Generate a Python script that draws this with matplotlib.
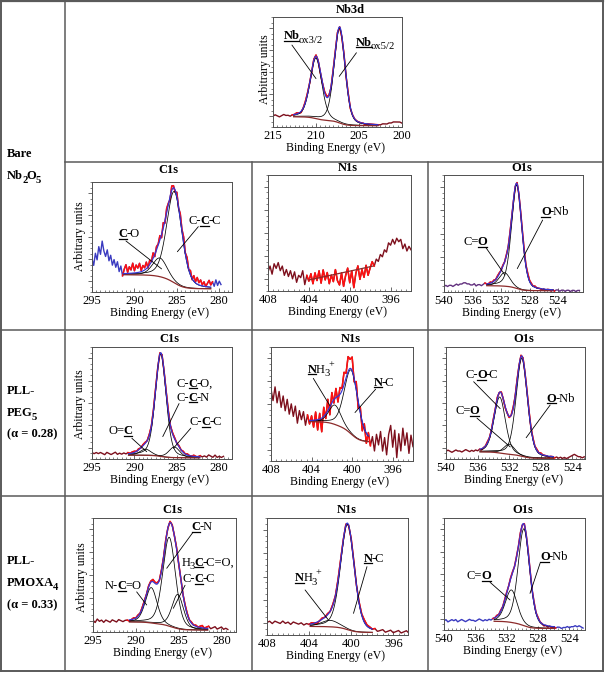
import math
import numpy as np
import matplotlib
matplotlib.use("Agg")
import matplotlib.pyplot as plt
from matplotlib.lines import Line2D
from matplotlib.transforms import IdentityTransform
from matplotlib.ticker import MultipleLocator

plt.rcParams["font.family"] = ["Liberation Serif", "DejaVu Serif"]

W, H, DPI = 605, 673, 100
RED = "#ff1010"
BLUE = "#3434d4"
BROWN = "#8c2a2a"
MAROON = "#7d0f1c"
PURPLE = "#62307e"
BLUEOUT = "#3a3ac0"
GRID = "#5a5a5a"
AX = "#505050"

# ---------------------------------------------------------------- data
# Peak-fit parameters (y in fraction of panel height),
# bg = [level on high-BE side, level on low-BE side], fit = [high-BE end, low-BE end]
# resid = measured minus fitted model, in hundredths, sampled from start with step.

nb3d_xticks = [215, 210, 205, 200]
nb3d_centers = [210.0, 207.25]
nb3d_heights = [0.55, 0.86]
nb3d_fwhm = [1.6, 1.5]
nb3d_bg = [0.095, 0.01]
nb3d_fit = [212.6, 202.8]
nb3d_start, nb3d_step = 215.0, 0.25
nb3d_resid = [0, 1, 0, -1, 0, 1, 0, 0, -1, 0,
              0, 1, 0, -1, 0, 1, 1, 0, -1, 1,
              1, 0, -1, 0, 1, 1, 0, -1, 1, 0,
              1, 0, -1, 1, 0, 1, -1, 0, 0, 0,
              0, 0, 0, -1, 0, 0, 0, 0, 0, 0,
              0, 1, 1, 1, 2, 2, 3, 3, 3, 3,
              2]

c1s_xticks = [295, 290, 285, 280]
n1s_xticks = [408, 404, 400, 396]
o1s_xticks = [540, 536, 532, 528, 524]

# Bare Nb2O5
c1s_bare_centers = [287.0, 285.3]
c1s_bare_heights = [0.17, 0.83]
c1s_bare_fwhm = [2.0, 2.1]
c1s_bare_bg = [0.16, 0.025]
c1s_bare_fit = [291.3, 281.0]
c1s_bare_start, c1s_bare_step = 295.0, 0.2
c1s_bare_resid = [14, 8, 19, 13, 25, 18, 30, 21, 16, 22,
                  12, 17, 8, 13, 6, 11, 2, 7, -2, 4,
                  8, 1, 6, 3, 9, 2, 7, 4, 8, 1,
                  5, 2, 6, -1, 4, 0, 5, -2, 3, 1,
                  4, -3, 5, -2, 4, 1, -3, 4, 2, -2,
                  4, -1, 5, 2, 6, 1, 5, 0, 4, -1,
                  5, 1, 6, 2, 5, 1, 4, 0, 3, 6,
                  2, 5, 1, 7, 2, 6, 3]

n1s_bare_centers = []
n1s_bare_heights = []
n1s_bare_fwhm = []
n1s_bare_bg = [0.095, 0.215]
n1s_bare_fit = [404.0, 397.7]
n1s_bare_start, n1s_bare_step = 408.0, 0.2
n1s_bare_resid = [7, 12, 5, 14, 10, 15, 8, 12, 4, 9,
                  3, 8, 1, 7, -2, 4, 2, 8, -4, 4,
                  -1, 5, -4, 5, -2, 6, -5, 6, -3, 3,
                  -7, 0, -6, 4, -6, -10, 0, -12, -3, 3,
                  -10, 0, -15, -3, 3, -9, -1, -8, 2, -7,
                  -1, 4, 0, 6, 4, 10, 8, 14, 12, 20,
                  18, 23, 19, 24, 21, 23, 15, 19, 13, 17,
                  14]

o1s_bare_centers = [531.5, 529.8]
o1s_bare_heights = [0.115, 0.885]
o1s_bare_fwhm = [1.8, 1.7]
o1s_bare_bg = [0.055, 0.01]
o1s_bare_fit = [534.0, 524.7]
o1s_bare_start, o1s_bare_step = 540.0, 0.25
o1s_bare_resid = [-1, 0, -1, 0, 0, -1, 0, 1, 0, 1,
                  1, 2, 2, 1, 1, 0, 0, 1, -1, 0,
                  0, -1, 0, 1, 0, 0, 1, 0, 1, 0,
                  1, 1, 0, 1, 0, 1, 0, 1, 0, -1,
                  0, 1, 0, 1, 2, 2, 1, 2, 1, 1,
                  0, 1, 0, 0, 0, -1, 0, -1, 0, 0,
                  -1, 0, -1, 0, 0, -1, 0, 0, -1, 0,
                  0, -1, 0, 0, -1, 0, 0]

# PLL-PEG5
c1s_peg_centers = [288.7, 286.9, 285.3]
c1s_peg_heights = [0.055, 0.915, 0.095]
c1s_peg_fwhm = [1.5, 1.5, 1.5]
c1s_peg_bg = [0.035, 0.01]
c1s_peg_fit = [290.7, 282.3]
c1s_peg_start, c1s_peg_step = 295.0, 0.25
c1s_peg_resid = [2, 1, 2, 1, 2, 1, 0, 2, 1, 0,
                 1, 2, 0, 1, 0, 1, 0, 1, 0, 1,
                 1, 0, 1, 0, 1, 1, 0, 1, 0, 1,
                 1, 0, 1, 1, 0, 1, 1, 0, 1, 1,
                 0, 1, 0, 1, 0, 1, 0, 0, 1, 0,
                 0, 1, 0, 1, 0, 2, 1, 0, 2, 0,
                 1, 0, 1]

n1s_peg_centers = [401.7, 400.1]
n1s_peg_heights = [0.17, 0.56]
n1s_peg_fwhm = [1.4, 1.6]
n1s_peg_bg = [0.35, 0.16]
n1s_peg_fit = [404.2, 398.4]
n1s_peg_start, n1s_peg_step = 408.0, 0.2
n1s_peg_resid = [28, 18, 30, 16, 26, 12, 22, 9, 19, 6,
                 15, 4, 13, -2, 9, 1, 8, -4, 5, -3,
                 4, -6, 7, -9, 5, -12, 8, -4, 10, -7,
                 9, -3, 8, -5, 6, 2, 11, 4, 13, 8,
                 12, -3, 7, -6, 5, -8, 4, -9, 3, -7,
                 2, -10, 5, -4, 8, -9, 3, -12, 6, 14,
                 -5, 10, -14, 7, -8, 12, -3, 8, -10, 6,
                 -4]

o1s_peg_centers = [533.2, 532.0, 530.4]
o1s_peg_heights = [0.50, 0.09, 0.874]
o1s_peg_fwhm = [1.7, 1.6, 1.7]
o1s_peg_bg = [0.065, 0.005]
o1s_peg_fit = [535.7, 526.4]
o1s_peg_start, o1s_peg_step = 540.0, 0.25
o1s_peg_resid = [0, 1, 0, -1, 0, 1, 0, 0, -1, 0,
                 1, 0, -1, 0, -1, 0, -1, 0, -1, 0,
                 0, 1, 0, 0, 1, 0, 1, 0, 1, 0,
                 -1, 0, -1, 0, 1, 0, 1, 0, 1, 1,
                 0, 1, 1, 0, 1, 0, 1, 0, 1, 0,
                 0, 0, -1, 0, 0, -1, 0, -1, 0, -1,
                 0, -1, 0, 1, 2, 3, 2, 1, 1, 0,
                 1]

# PLL-PMOXA4
c1s_pmoxa_centers = [288.2, 286.1, 285.1]
c1s_pmoxa_heights = [0.31, 0.78, 0.30]
c1s_pmoxa_fwhm = [1.6, 1.75, 1.6]
c1s_pmoxa_bg = [0.09, 0.015]
c1s_pmoxa_fit = [290.75, 281.6]
c1s_pmoxa_start, c1s_pmoxa_step = 295.0, 0.25
c1s_pmoxa_resid = [1, -1, 2, 0, 1, -1, 1, 0, -1, 1,
                   0, -1, 1, 0, -1, 0, 0, -1, 0, 1,
                   0, 1, 0, 1, 1, 0, 1, 1, 2, 1,
                   1, 0, 1, 0, 1, 0, 1, 1, 0, 1,
                   0, 1, 0, 1, 1, 0, 1, 0, 1, 0,
                   1, 2, 0, 1, 2, 0, 1, 2, 0, 1,
                   2, 0, 1, 0]

n1s_pmoxa_centers = [402.0, 400.35]
n1s_pmoxa_heights = [0.055, 0.90]
n1s_pmoxa_fwhm = [2.0, 1.55]
n1s_pmoxa_bg = [0.075, 0.02]
n1s_pmoxa_fit = [403.9, 398.0]
n1s_pmoxa_start, n1s_pmoxa_step = 408.0, 0.25
n1s_pmoxa_resid = [3, 4, 2, 4, 3, 2, 4, 2, 3, 1,
                   3, 2, 1, 2, 0, 1, 0, 1, 0, -1,
                   0, 1, 0, 1, 0, 1, 0, 1, 1, 0,
                   1, 0, 1, 1, 0, 1, 1, 2, 1, 1,
                   0, 1, -1, 0, 1, -1, 0, 1, -1, 0,
                   1, -1, 0, 1, -1, 0, 1]

o1s_pmoxa_centers = [531.4, 529.8]
o1s_pmoxa_heights = [0.29, 0.865]
o1s_pmoxa_fwhm = [1.8, 1.75]
o1s_pmoxa_bg = [0.08, 0.012]
o1s_pmoxa_fit = [533.6, 525.9]
o1s_pmoxa_start, o1s_pmoxa_step = 540.0, 0.25
o1s_pmoxa_resid = [0, 1, -1, 0, 1, 0, 1, -1, 0, 1,
                   0, -1, 0, 1, 0, 0, -1, 0, 1, 0,
                   -1, 0, -1, 0, -1, 0, 0, 1, 0, 1,
                   0, 1, 1, 0, 1, 1, 0, 1, 0, 1,
                   0, 1, 0, 1, 1, 0, 1, 0, 1, 0,
                   0, -1, 0, -1, 0, -1, 0, -1, 0, 0,
                   -1, 0, 0, 1, 0, 1, 1, 2, 1, 2,
                   1, 0]

row_labels = [
    [([("Bare", "B")], 157), ([("Nb", "B"), ("2", "B_"), ("O", "B"), ("5", "B_")], 179)],
    [([("PLL-", "B")], 394), ([("PEG", "B"), ("5", "B_")], 416), ([("(α = 0.28)", "B")], 437)],
    [([("PLL-", "B")], 564), ([("PMOXA", "B"), ("4", "B_")], 586), ([("(α = 0.33)", "B")], 608)],
]

# ---------------------------------------------------------------- model
ETA = 0.3
L2 = math.log(2.0)
AG = (1 - ETA) * math.sqrt(math.pi / (4 * L2))
AL = ETA * math.pi / 2
_erf = np.vectorize(math.erf)


def peak(x, c, h, w):
    d = (x - c) / w
    return h * ((1 - ETA) * np.exp(-4 * L2 * d * d) + ETA / (1 + 4 * d * d))


def peak_cdf(x, c, w):
    sg = w / (2 * math.sqrt(2 * L2))
    g = 0.5 * (1 + _erf((x - c) / (sg * math.sqrt(2))))
    lo = 0.5 + np.arctan(2 * (x - c) / w) / math.pi
    return (AG * g + AL * lo) / (AG + AL)


def background(x, p):
    hi, low = p["bg"]
    if p["centers"]:
        wts = [h * w for h, w in zip(p["heights"], p["fwhm"])]
        frac = sum(wt * peak_cdf(x, c, w) for wt, c, w in zip(wts, p["centers"], p["fwhm"])) / sum(wts)
    else:
        f0, f1 = p["fit"]
        frac = np.clip((x - f1) / (f0 - f1), 0, 1)
    return low + (hi - low) * frac


def model(x, p):
    y = background(x, p)
    for c, h, w in zip(p["centers"], p["heights"], p["fwhm"]):
        y = y + peak(x, c, h, w)
    return y


def P(prefix, **kw):
    g = globals()
    d = dict(centers=g[prefix + "_centers"], heights=g[prefix + "_heights"],
             fwhm=g[prefix + "_fwhm"], bg=g[prefix + "_bg"], fit=g[prefix + "_fit"],
             start=g[prefix + "_start"], step=g[prefix + "_step"], resid=g[prefix + "_resid"])
    d.update(kw)
    return d


panels = [
    P("nb3d", box=(273, 17, 129, 110), xlim=(215, 200), ticks=nb3d_xticks, title="Nb3d",
      title_px=(350, 10), ylabel_px=(265, 69), out=MAROON,
      notes=[([("Nb", "BU"), ("ox3/2", "_")], (213.8, 0.80), (212.8, 0.745), (210.0, 0.44)),
             ([("Nb", "BU"), ("ox5/2", "_")], (205.35, 0.74), (205.3, 0.675), (207.3, 0.46))]),
    P("c1s_bare", box=(92, 182, 140, 110), xlim=(295, 278.5), ticks=c1s_xticks, title="C1s",
      title_px=(168, 170), ylabel_px=(80, 236), out=BLUEOUT,
      notes=[([("C", "BU"), ("-O", "")], (291.9, 0.497), (291.0, 0.464), (286.8, 0.21)),
             ([("C-", ""), ("C", "BU"), ("-C", "")], (283.64, 0.615), (282.47, 0.594), (284.94, 0.366))]),
    P("n1s_bare", box=(268, 175, 143, 116), xlim=(408, 394), ticks=n1s_xticks, title="N1s",
      title_px=(348, 168), ylabel_px=None, out=MAROON, notes=[]),
    P("o1s_bare", box=(444, 175, 139, 117), xlim=(540, 520.5), ticks=o1s_xticks, title="O1s",
      title_px=(522, 168), ylabel_px=None, out=PURPLE,
      notes=[([("C=", ""), ("O", "BU")], (537.3, 0.40), (534.15, 0.382), (531.45, 0.145)),
             ([("O", "BU"), ("-Nb", "")], (526.4, 0.658), (526.16, 0.615), (529.72, 0.2))]),
    P("c1s_peg", box=(92, 347, 140, 112), xlim=(295, 278.5), ticks=c1s_xticks, title="C1s",
      title_px=(169, 339), ylabel_px=(80, 404), out=MAROON,
      notes=[([("O=", ""), ("C", "BU")], (293.08, 0.22), (290.3, 0.185), (288.55, 0.065)),
             ([("C-", ""), ("C", "BU"), ("-O,", "")], (285.02, 0.645), None, None),
             ([("C-", ""), ("C", "BU"), ("-N", "")], (285.02, 0.52), (284.74, 0.495), (286.66, 0.2)),
             ([("C-", ""), ("C", "BU"), ("-C", "")], (283.45, 0.30), (283.36, 0.275), (285.41, 0.095))]),
    P("n1s_peg", box=(271, 347, 142, 114), xlim=(408, 394), ticks=n1s_xticks, title="N1s",
      title_px=(351, 339), ylabel_px=None, out=MAROON,
      notes=[([("N", "BU"), ("H", ""), ("3", "_"), ("+", "^")], (404.38, 0.775), (403.83, 0.725), (402.18, 0.483)),
             ([("N", "BU"), ("-C", "")], (397.91, 0.66), (397.68, 0.63), (399.72, 0.425))]),
    P("o1s_peg", box=(446, 347, 139, 112), xlim=(540, 522.4), ticks=o1s_xticks, title="O1s",
      title_px=(524, 339), ylabel_px=None, out=MAROON,
      notes=[([("C-", ""), ("O", "BU"), ("-C", "")], (537.56, 0.72), (536.5, 0.69), (533.14, 0.45)),
             ([("C=", ""), ("O", "BU")], (538.83, 0.40), (536.08, 0.365), (531.87, 0.108)),
             ([("O", "BU"), ("-Nb", "")], (527.23, 0.511), (526.81, 0.482), (529.85, 0.19))]),
    P("c1s_pmoxa", box=(93, 518, 143, 114), xlim=(295, 278.3), ticks=c1s_xticks, title="C1s",
      title_px=(172, 510), ylabel_px=(82, 577), out=MAROON,
      notes=[([("C", "BU"), ("-N", "")], (283.47, 0.895), (283.35, 0.872), (286.39, 0.559)),
             ([("H", ""), ("3", "_"), ("C", "BU"), ("-C=O,", "")], (284.64, 0.582), None, None),
             ([("C-", ""), ("C", "BU"), ("-C", "")], (284.52, 0.436), (284.25, 0.41), (285.62, 0.208)),
             ([("N-", ""), ("C", "BU"), ("=O", "")], (293.6, 0.377), (289.9, 0.352), (288.73, 0.237))]),
    P("n1s_pmoxa", box=(267, 518, 141, 117), xlim=(408, 394.6), ticks=n1s_xticks, title="N1s",
      title_px=(347, 510), ylabel_px=None, out=MAROON,
      notes=[([("N", "BU"), ("H", ""), ("3", "_"), ("+", "^")], (405.33, 0.462), (404.38, 0.385), (402.16, 0.128)),
             ([("N", "BU"), ("-C", "")], (398.83, 0.627), (398.5, 0.584), (399.78, 0.185))]),
    P("o1s_pmoxa", box=(444, 518, 141, 112), xlim=(540, 522), ticks=o1s_xticks, title="O1s",
      title_px=(523, 510), ylabel_px=None, out=BLUEOUT,
      notes=[([("C=", ""), ("O", "BU")], (537.1, 0.455), (534.12, 0.426), (531.57, 0.268)),
             ([("O", "BU"), ("-Nb", "")], (527.74, 0.625), (527.74, 0.595), (529.02, 0.327))]),
]

# ---------------------------------------------------------------- figure
fig = plt.figure(figsize=(W / DPI, H / DPI), dpi=DPI)
fig.patch.set_facecolor("white")
renderer = fig.canvas.get_renderer()
PXPT = DPI / 72.0


def rich(X, Y, parts, size=9.0):
    """Draw text pieces left to right starting at display pixel (X, baseline Y)."""
    for txt, st in parts:
        fs = size
        dy = 0.0
        if "_" in st:
            fs = size * 0.85
            dy = -0.3 * size * PXPT
        elif "^" in st:
            fs = size * 0.8
            dy = 0.45 * size * PXPT
        t = fig.text(X, Y + dy, txt, transform=IdentityTransform(), fontsize=fs,
                     fontweight="bold" if "B" in st else "normal", ha="left", va="baseline")
        bb = t.get_window_extent(renderer=renderer)
        if "U" in st:
            fig.add_artist(Line2D([bb.x0 + 0.3, bb.x1 - 0.3], [Y - 1.6, Y - 1.6],
                                  transform=IdentityTransform(), color="black", lw=0.9))
        X = bb.x1 - 0.8


def hline(x0, x1, y, lw=1.1):
    fig.add_artist(Line2D([x0 / W, x1 / W], [1 - y / H, 1 - y / H], transform=fig.transFigure,
                          color=GRID, lw=lw, solid_capstyle="projecting"))


def vline(x, y0, y1, lw=1.1):
    fig.add_artist(Line2D([x / W, x / W], [1 - y0 / H, 1 - y1 / H], transform=fig.transFigure,
                          color=GRID, lw=lw, solid_capstyle="projecting"))


# table grid
hline(1, 603, 1, lw=1.6)
hline(1, 603, 671, lw=1.4)
vline(1, 1, 671, lw=1.4)
vline(603, 1, 671, lw=1.4)
vline(65, 1, 671)
hline(65, 603, 162)
hline(1, 603, 330)
hline(1, 603, 496)
vline(252, 162, 671)
vline(428, 162, 671)

for p in panels:
    left, top, w, h = p["box"]
    ax = fig.add_axes([left / W, 1 - (top + h) / H, w / W, h / H])
    ax.set_xlim(*p["xlim"])
    ax.set_ylim(0, 1)
    for s in ax.spines.values():
        s.set_color(AX)
        s.set_linewidth(0.7)
    ax.set_xticks(p["ticks"])
    ax.set_xticklabels([str(t) for t in p["ticks"]])
    ax.xaxis.set_minor_locator(MultipleLocator(0.5))
    ax.yaxis.set_major_locator(MultipleLocator(0.2, offset=0.1))
    ax.yaxis.set_minor_locator(MultipleLocator(0.05))
    ax.tick_params(axis="x", which="both", direction="in", top=False, labelsize=9, pad=2, color=AX)
    ax.tick_params(axis="x", which="major", length=3, width=0.6)
    ax.tick_params(axis="x", which="minor", length=1.5, width=0.5)
    ax.tick_params(axis="y", which="both", direction="out", right=False, labelleft=False, color=AX)
    ax.tick_params(axis="y", which="major", length=3, width=0.6)
    ax.tick_params(axis="y", which="minor", length=1.5, width=0.5)

    # measured spectrum
    n = len(p["resid"])
    xs = p["start"] - p["step"] * np.arange(n)
    ys = model(xs, p) + np.array(p["resid"]) / 100.0
    f0, f1 = p["fit"]
    ax.plot(xs, ys, color=p["out"], lw=1.0, zorder=2)
    inside = (xs <= f0 + p["step"]) & (xs >= f1 - p["step"])
    ax.plot(xs[inside], ys[inside], color=RED, lw=1.1, zorder=3)

    # fit
    xf = np.linspace(f0, f1, 400)
    bgf = background(xf, p)
    for c, hh, ww in zip(p["centers"], p["heights"], p["fwhm"]):
        ax.plot(xf, bgf + peak(xf, c, hh, ww), color="black", lw=0.55, zorder=4)
    ax.plot(xf, bgf, color=BROWN, lw=0.9, zorder=5)
    if p["centers"]:
        ax.plot(xf, model(xf, p), color=BLUE, lw=0.85, zorder=6)

    # annotations
    for parts, tpos, l0, l1 in p["notes"]:
        X, Y = ax.transData.transform(tpos)
        rich(X, Y, parts, size=9.0)
        if l0 is not None:
            ax.annotate("", xy=l1, xytext=l0,
                        arrowprops=dict(arrowstyle="-", color="black", lw=0.6,
                                        shrinkA=0, shrinkB=0), zorder=7)

    # titles / labels
    tx, ty = p["title_px"]
    fig.text(tx / W, 1 - ty / H, p["title"], ha="center", va="center", fontsize=9, fontweight="bold")
    fig.text((left + w / 2 - 2) / W, 1 - (top + h + 21) / H, "Binding Energy (eV)",
             ha="center", va="center", fontsize=8.5)
    if p["ylabel_px"] is not None:
        yx, yy = p["ylabel_px"]
        fig.text(yx / W, 1 - yy / H, "Arbitrary units", rotation=90, ha="center", va="center",
                 fontsize=8.5)

# row labels
for group in row_labels:
    for parts, ybase in group:
        rich(7, H - ybase, parts, size=9.0)

fig.savefig("out.png", dpi=DPI, facecolor="white")
